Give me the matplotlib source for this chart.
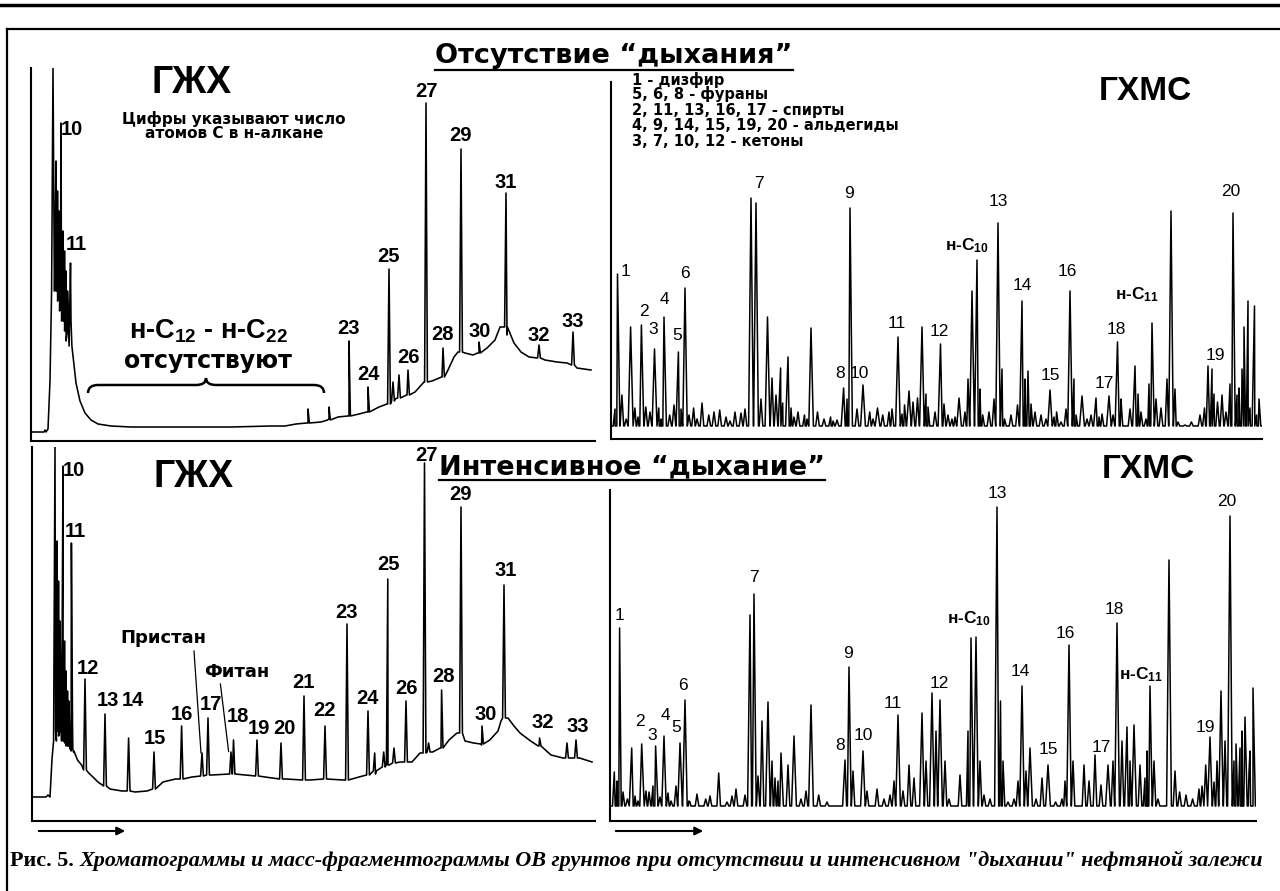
import numpy as np
import matplotlib
matplotlib.use("Agg")
import matplotlib.pyplot as plt
from matplotlib.lines import Line2D
from matplotlib.path import Path
from matplotlib.patches import PathPatch

plt.rcParams['font.family'] = ['Liberation Sans', 'DejaVu Sans']
plt.rcParams['mathtext.fontset'] = 'custom'
plt.rcParams['mathtext.rm'] = 'Liberation Sans:bold'
plt.rcParams['mathtext.it'] = 'Liberation Sans:bold'
plt.rcParams['mathtext.bf'] = 'Liberation Sans:bold'
plt.rcParams['mathtext.default'] = 'rm'

WIDE = ['DejaVu Sans']   # широкий жирный шрифт для заголовков и легенды

# ---------------- ГЖХ, отсутствие "дыхания" (верх слева) ----------------
ul_base_x = [1, 13, 14, 15, 17, 19, 40, 42, 45, 49, 54, 60, 67, 80, 100, 150, 200, 240, 254, 265,
             277, 290, 298, 307, 318, 328, 337, 348, 356, 364, 376, 384, 393, 401, 411, 417, 423, 427,
             434, 442, 448, 456, 464, 469, 476, 483, 490, 498, 506, 514, 526, 536, 546, 560]
ul_base_y = [9, 9, 11, 9, 12, 60, 120, 85, 58, 40, 28, 21, 17, 15, 14, 14, 14, 15, 15, 17,
             18, 19, 22, 24, 25, 27, 29, 34, 37, 42, 46, 49, 59, 60, 64, 71, 84, 89,
             88, 86, 88, 93, 101, 114, 106, 98, 89, 84, 83, 81, 79, 78, 73, 71]
ul_peak_x = [22, 25, 26.5, 28, 30, 32, 33.5, 35, 36.5, 39.5, 277, 298, 318, 337, 358, 362, 368,
             377, 395, 412, 430, 448, 475, 508, 542]
ul_peak_top = [373, 280, 250, 230, 318, 210, 190, 170, 150, 178, 32, 34, 100, 54, 172, 59, 66,
               71, 338, 93, 292, 99, 248, 96, 109]
ul_peak_base = [150, 150, 150, 140, 130, 120, 120, 110, 100, 95, 18, 21, 25, 29, 37, 40, 43,
                46, 59, 64, 89, 88, 114, 83, 76]
ul_labels = ['10', '11', '23', '24', '25', '26', '27', '28', '29', '30', '31', '32', '33']
ul_label_x = [41, 45, 317, 337, 357, 377, 395, 412, 429, 449, 475, 508, 542]
ul_label_y = [312, 197, 113, 67, 185, 84, 350, 107, 306, 110, 259, 106, 120]

# ---------------- ГЖХ, интенсивное "дыхание" (низ слева) ----------------
ll_base_x = [1, 14, 16, 18, 20, 41.5, 45.5, 49.6, 55.8, 66, 78, 90, 103, 115, 131, 143.5, 160, 180,
             196.6, 213, 233, 254, 278, 294.5, 311, 327, 343.5, 356, 368, 380, 388, 400.7, 409, 417,
             425, 433, 441.5, 449.6, 457.8, 466, 469, 476, 482, 488, 498.6, 507, 519, 531, 547.6, 560]
ll_base_y = [24, 24, 26, 24, 62, 69, 61, 56, 49, 39, 32, 30, 29, 30, 39, 42, 44, 46,
             47, 46, 44, 42, 41, 42, 41, 44, 47, 56, 59, 59, 68, 69, 73, 81,
             88, 80, 78, 76, 81, 90, 100, 103, 95, 88, 80, 75, 66, 63, 63, 59]
ll_peak_x = [23, 25, 26.5, 28, 31, 32.5, 34, 35.5, 37, 39.4, 40.5, 53, 73, 96.6, 122, 149.6, 170,
             176, 199, 201.5, 225, 249, 272, 293, 315, 336, 342.7, 351.7, 355.8, 362, 374, 392.5,
             396.6, 409.6, 429, 450, 472, 507.6, 535, 544]
ll_peak_top = [374, 280, 240, 200, 355, 180, 150, 130, 120, 278, 100, 142, 107, 83, 69, 95, 68,
               103, 69, 81, 81, 78, 125, 95, 197, 110, 68, 69, 242, 73, 120, 358,
               78, 131, 314, 95, 236, 83, 78, 81]
ll_peak_base = [80, 90, 90, 85, 80, 80, 78, 75, 75, 72, 70, 51, 35, 30, 32, 42, 45,
                46, 47, 47, 45, 42, 41, 42, 41, 46, 50, 54, 56, 58, 59, 68,
                69, 73, 88, 77, 103, 75, 63, 63]
ll_labels = ['10', '11', '12', '13', '14', '15', '16', '17', '18', '19', '20', '21', '22', '23',
             '24', '25', '26', '27', '28', '29', '30', '31', '32', '33']
ll_label_x = [41.5, 43.5, 56, 76, 101, 123, 150, 179, 206, 227, 252, 271, 293, 315,
              335, 356.6, 375, 394.5, 411.7, 429, 453.7, 474, 511, 545.5]
ll_label_y = [351, 290, 153, 121, 121, 82, 107, 116, 104, 92, 92, 139, 110, 209,
              123, 257, 133, 366, 145, 327, 107, 250, 98, 95]

# ---------------- ГХМС, отсутствие "дыхания" (верх справа) ----------------
ur_baseline = 13
ur_peak_x = [6.5, 19.6, 30.4, 43.5, 53, 67.4, 74, 140, 145, 156.5, 169.6, 177, 200, 232.6, 239,
             252, 266.5, 287, 298, 311, 329.5, 348, 361, 366, 387, 411, 417, 439, 459, 471, 485,
             498, 506.5, 524, 541, 560, 597, 601, 622, 633, 637, 643.5]
ur_peak_top = [165, 112, 114, 90, 122, 87, 151, 241, 236, 122, 71, 82, 111, 51, 231,
               54, 31, 102, 48, 112, 95, 41, 148, 179, 216, 138, 68, 49, 148, 43, 41,
               43, 97, 73, 116, 228, 73, 70, 226, 112, 138, 133]
ur_minor_x = [4, 10.9, 15.2, 23.9, 27, 34.8, 39, 47.8, 50, 58.7, 63, 70, 78, 82.6, 86, 91, 97.8,
              103, 108.7, 115, 119, 124, 130, 134, 150, 161, 165, 171.7, 180, 183, 187, 193.5,
              196, 206.5, 213, 219.6, 222, 226, 236, 246, 258.7, 262, 271.7, 278, 281, 291,
              293.5, 302, 306.5, 315, 317, 324, 333, 337, 341, 344, 354, 357, 369, 371.7, 378,
              383, 391, 393.5, 400, 406.5, 414, 420, 424, 430, 435, 443, 445.6, 450, 455, 463,
              465, 476, 480, 488, 491, 502, 510, 511, 519, 527, 530, 535, 538, 545, 550, 556,
              564, 567, 574, 580.4, 589, 593.5, 603, 606.5, 611, 615, 619, 626, 628, 631, 639,
              645.6, 648]
ur_minor_h = [30, 44, 20, 31, 22, 32, 27, 31, 20, 24, 34, 30, 24, 31, 20, 36, 24,
              27, 29, 22, 18, 27, 26, 30, 40, 61, 44, 36, 31, 22, 27, 24,
              20, 27, 20, 22, 18, 19, 40, 30, 27, 20, 24, 27, 30, 25,
              34, 37, 41, 45, 32, 27, 35, 24, 20, 22, 27, 60, 50, 24, 27,
              40, 70, 20, 24, 34, 60, 35, 27, 24, 20, 22, 27, 17, 30, 60,
              24, 20, 24, 22, 25, 24, 40, 24, 30, 45, 27, 20, 55, 40, 31, 60,
              50, 17, 14, 17, 24, 31, 45, 37, 44, 27, 55, 44, 51, 70, 31,
              24, 40]
ur_labels = ['1', '2', '3', '4', '5', '6', '7', '8', '9', '10', '11', '12', 'н-C$_{10}$', '13',
             '14', '15', '16', '17', '18', 'н-C$_{11}$', '19', '20']
ur_label_x = [14.3, 32.6, 42.6, 53, 66.5, 74, 147.8, 229, 238, 248.7, 285.7, 328, 356, 387,
              411, 439, 456.5, 493.5, 505.7, 526, 604, 619.6]
ur_label_y = [167, 128, 109, 140, 104, 165, 256, 65, 246, 65, 115, 108, 193, 237,
              154, 63, 168, 56, 109, 144, 83, 248]
legend_lines = ['1 - дизфир', '5, 6, 8 - фураны', '2, 11, 13, 16, 17 - спирты',
                '4, 9, 14, 15, 19, 20 - альдегиды', '3, 7, 10, 12 - кетоны']

# ---------------- ГХМС, интенсивное "дыхание" (низ справа) ----------------
lr_baseline = 15
lr_peak_x = [9.6, 21.7, 31.7, 45.6, 54, 70, 75, 140, 144, 158, 171, 184, 201, 235, 239, 253, 288,
             312, 322, 330, 361, 366, 387, 412, 420, 438, 459, 498, 507, 517, 524, 540, 559, 600,
             611, 620, 635, 643]
lr_peak_top = [193, 73, 77, 75, 85, 78, 121, 206, 227, 119, 68, 85, 116, 61, 154, 70, 106,
               108, 128, 121, 183, 184, 314, 135, 73, 56, 176, 56, 198, 94, 96, 135, 261, 84,
               130, 305, 104, 133]
lr_minor_x = [4.3, 7, 13, 17.4, 25, 28, 36, 39, 43, 50, 58, 61, 66, 79, 80, 87, 95.7, 100, 108.7,
              117, 122, 126, 135, 148, 152, 162, 165, 168, 178, 191, 196, 208.7, 217, 226, 243,
              257, 267, 274, 280, 284, 293, 299, 304, 316, 326, 335, 339, 350, 356.5, 358, 370,
              374, 380, 390.5, 393, 398, 404, 408, 416, 426, 432, 445.6, 452, 455, 463, 474, 479,
              485, 491, 503, 512, 520, 530, 535, 537, 544, 548, 565, 569.6, 576, 582.6, 589, 592,
              595.7, 604, 607, 615, 624, 626, 630, 632, 639, 640]
lr_minor_h = [49, 40, 29, 22, 25, 20, 30, 29, 35, 24, 28, 20, 35, 20, 19, 27, 22, 25, 48,
              19, 25, 32, 26, 45, 100, 60, 43, 40, 56, 22, 30, 26, 19, 15, 50,
              30, 32, 22, 26, 40, 30, 56, 43, 60, 90, 60, 22, 46, 19, 90, 60,
              26, 22, 120, 60, 19, 22, 40, 50, 22, 43, 19, 22, 40, 60, 56, 40,
              66, 36, 60, 80, 60, 56, 43, 70, 60, 22, 50, 29, 26, 22, 32, 35,
              56, 39, 60, 80, 60, 77, 73, 90, 49, 70]
lr_labels = ['1', '2', '3', '4', '5', '6', '7', '8', '9', '10', '11', '12', 'н-C$_{10}$', '13',
             '14', '15', '16', '17', '18', 'н-C$_{11}$', '19', '20']
lr_label_x = [9.6, 30.4, 42.6, 55.7, 66, 73, 144, 229.6, 238, 253.5, 282.6, 329.6, 359, 387,
              410, 438, 455.7, 491, 504, 531, 595.7, 617]
lr_label_y = [206, 100, 86, 105, 93, 136, 243, 76, 168, 86, 117, 138, 202, 327,
              149, 71, 187, 73, 211, 146, 93, 320]

W, H = 1280, 891
fig = plt.figure(figsize=(12.8, 8.91), dpi=100)


def panel(x0, y0, x1, y1):
    ax = fig.add_axes([x0 / W, 1 - y1 / H, (x1 - x0) / W, (y1 - y0) / H])
    ax.set_xlim(0, x1 - x0)
    ax.set_ylim(0, y1 - y0)
    ax.spines['top'].set_visible(False)
    ax.spines['right'].set_visible(False)
    ax.spines['left'].set_linewidth(1.5)
    ax.spines['bottom'].set_linewidth(1.5)
    ax.set_xticks([])
    ax.set_yticks([])
    ax.patch.set_alpha(0)
    return ax


def trace(bx, by, px, ptop, pbase, w):
    xs = list(bx)
    ys = list(by)
    for x, t, b in zip(px, ptop, pbase):
        xs += [x - w, x, x + w]
        ys += [b, t, b]
    order = np.argsort(xs, kind='stable')
    return np.array(xs)[order], np.array(ys)[order]


def gcms(ax, width, base, px, ptop, mx, mh):
    x1, y1 = trace([0, width], [base, base], px, ptop, [base] * len(px), 2.4)
    x2, y2 = trace([], [], mx, mh, [base] * len(mx), 1.8)
    xs = np.concatenate([x1, x2])
    ys = np.concatenate([y1, y2])
    order = np.argsort(xs, kind='stable')
    ax.plot(xs[order], ys[order], color='black', lw=1.1)


ax_ul = panel(31, 68, 595, 441)
ax_ur = panel(611, 82, 1262, 439)
ax_ll = panel(32, 447, 595, 821)
ax_lr = panel(610, 490, 1256, 821)

# ГЖХ кривые
x, y = trace(ul_base_x, ul_base_y, ul_peak_x, ul_peak_top, ul_peak_base, 1.4)
ax_ul.plot(x, y, color='black', lw=1.15)
x, y = trace(ll_base_x, ll_base_y, ll_peak_x, ll_peak_top, ll_peak_base, 1.4)
ax_ll.plot(x, y, color='black', lw=1.15)

# ГХМС кривые
gcms(ax_ur, 651, ur_baseline, ur_peak_x, ur_peak_top, ur_minor_x, ur_minor_h)
gcms(ax_lr, 643, lr_baseline, lr_peak_x, lr_peak_top, lr_minor_x, lr_minor_h)

for s, lx, ly in zip(ul_labels, ul_label_x, ul_label_y):
    ax_ul.text(lx, ly, s, ha='center', va='center', fontsize=14.5, fontweight='bold')
for s, lx, ly in zip(ll_labels, ll_label_x, ll_label_y):
    ax_ll.text(lx, ly, s, ha='center', va='center', fontsize=14.5, fontweight='bold')
for s, lx, ly in zip(ur_labels, ur_label_x, ur_label_y):
    bold = 'bold' if 'C' in s else 'normal'
    ax_ur.text(lx, ly, s, ha='center', va='center', fontsize=12.5, fontweight=bold)
for s, lx, ly in zip(lr_labels, lr_label_x, lr_label_y):
    bold = 'bold' if 'C' in s else 'normal'
    ax_lr.text(lx, ly, s, ha='center', va='center', fontsize=12.5, fontweight=bold)

# подписи на ГЖХ
ax_ul.text(121, 441 - 93, 'ГЖХ', fontsize=27, fontweight='bold', va='baseline')
ax_ll.text(122, 821 - 487, 'ГЖХ', fontsize=27, fontweight='bold', va='baseline')
ax_ul.text(203, 441 - 119, 'Цифры указывают число', fontsize=11, fontweight='bold',
           family=WIDE, ha='center', va='center')
ax_ul.text(203, 441 - 133, 'атомов С в н-алкане', fontsize=11, fontweight='bold',
           family=WIDE, ha='center', va='center')
ax_ul.text(177, 441 - 331, 'н-C$_{12}$ - н-C$_{22}$', fontsize=19.5, fontweight='bold',
           ha='center', va='center')
ax_ul.text(177, 441 - 361, 'отсутствуют', fontsize=17, fontweight='bold', family=WIDE,
           ha='center', va='center')

# фигурная скобка под надписью
bx0, bx1, by0 = 57, 293, 56
bm = (bx0 + bx1) / 2
verts = [(bx0, by0 - 8), (bx0, by0), (bx0 + 10, by0), (bm - 10, by0), (bm, by0), (bm, by0 + 7),
         (bm, by0), (bm + 10, by0), (bx1 - 10, by0), (bx1, by0), (bx1, by0 - 8)]
codes = [Path.MOVETO, Path.CURVE3, Path.CURVE3, Path.LINETO, Path.CURVE3, Path.CURVE3,
         Path.CURVE3, Path.CURVE3, Path.LINETO, Path.CURVE3, Path.CURVE3]
ax_ul.add_patch(PathPatch(Path(verts, codes), fill=False, lw=1.8, color='black'))

ax_ll.text(131, 183, 'Пристан', fontsize=13, fontweight='bold', family=WIDE,
           ha='center', va='center')
ax_ll.text(205, 149, 'Фитан', fontsize=13, fontweight='bold', family=WIDE,
           ha='center', va='center')
ax_ll.plot([162, 169], [170, 68], color='black', lw=0.9)
ax_ll.plot([188.4, 196.6], [137, 69.5], color='black', lw=0.9)

# ГХМС заголовки и легенда
fig.text(1145 / W, 1 - 100 / H, 'ГХМС', fontsize=24, fontweight='bold', ha='center',
         va='baseline')
fig.text(1148 / W, 1 - 478 / H, 'ГХМС', fontsize=24, fontweight='bold', ha='center',
         va='baseline')
for line, ly in zip(legend_lines, [80, 94, 110, 126, 142]):
    fig.text(632 / W, 1 - ly / H, line, fontsize=10.5, fontweight='bold', family=WIDE,
             ha='left', va='center')

# стрелки направления времени
ax_ll.annotate('', xy=(96, -10), xytext=(4, -10),
               arrowprops=dict(arrowstyle='-|>', lw=1.5, color='black', mutation_scale=12),
               annotation_clip=False)
ax_lr.annotate('', xy=(96, -10), xytext=(3, -10),
               arrowprops=dict(arrowstyle='-|>', lw=1.5, color='black', mutation_scale=12),
               annotation_clip=False)

# заголовки с подчёркиванием
t_up = fig.text(614 / W, 1 - 63 / H, 'Отсутствие “дыхания”', fontsize=19.5, fontweight='bold',
                family=WIDE, ha='center', va='baseline')
t_low = fig.text(632 / W, 1 - 474 / H, 'Интенсивное “дыхание”', fontsize=19.5,
                 fontweight='bold', family=WIDE, ha='center', va='baseline')

# рамка
fig.add_artist(Line2D([0, 1], [1 - 5 / H] * 2, lw=2.5, color='black'))
fig.add_artist(Line2D([7 / W, 1], [1 - 29 / H] * 2, lw=1.6, color='black'))
fig.add_artist(Line2D([7 / W, 7 / W], [0, 1 - 29 / H], lw=1.6, color='black'))

# подпись рисунка
t1 = fig.text(10 / W, 1 - 861 / H, 'Рис. 5.', family='Liberation Serif', fontweight='bold',
              fontsize=15.9, va='center', ha='left')
ax_ll.annotate('Хроматограммы и масс-фрагментограммы ОВ грунтов при отсутствии и '
               'интенсивном "дыхании" нефтяной залежи',
               xy=(1, 0.5), xycoords=t1, xytext=(4, 0), textcoords='offset points',
               va='center', ha='left', family='Liberation Serif', fontweight='bold',
               style='italic', fontsize=15.9, annotation_clip=False)

fig.canvas.draw()
r = fig.canvas.get_renderer()
for t, yline in [(t_up, 70), (t_low, 480)]:
    bb = t.get_window_extent(r)
    fig.add_artist(Line2D([bb.x0 / W, bb.x1 / W], [1 - yline / H] * 2, lw=1.6, color='black'))

fig.savefig('out.png', dpi=100)
